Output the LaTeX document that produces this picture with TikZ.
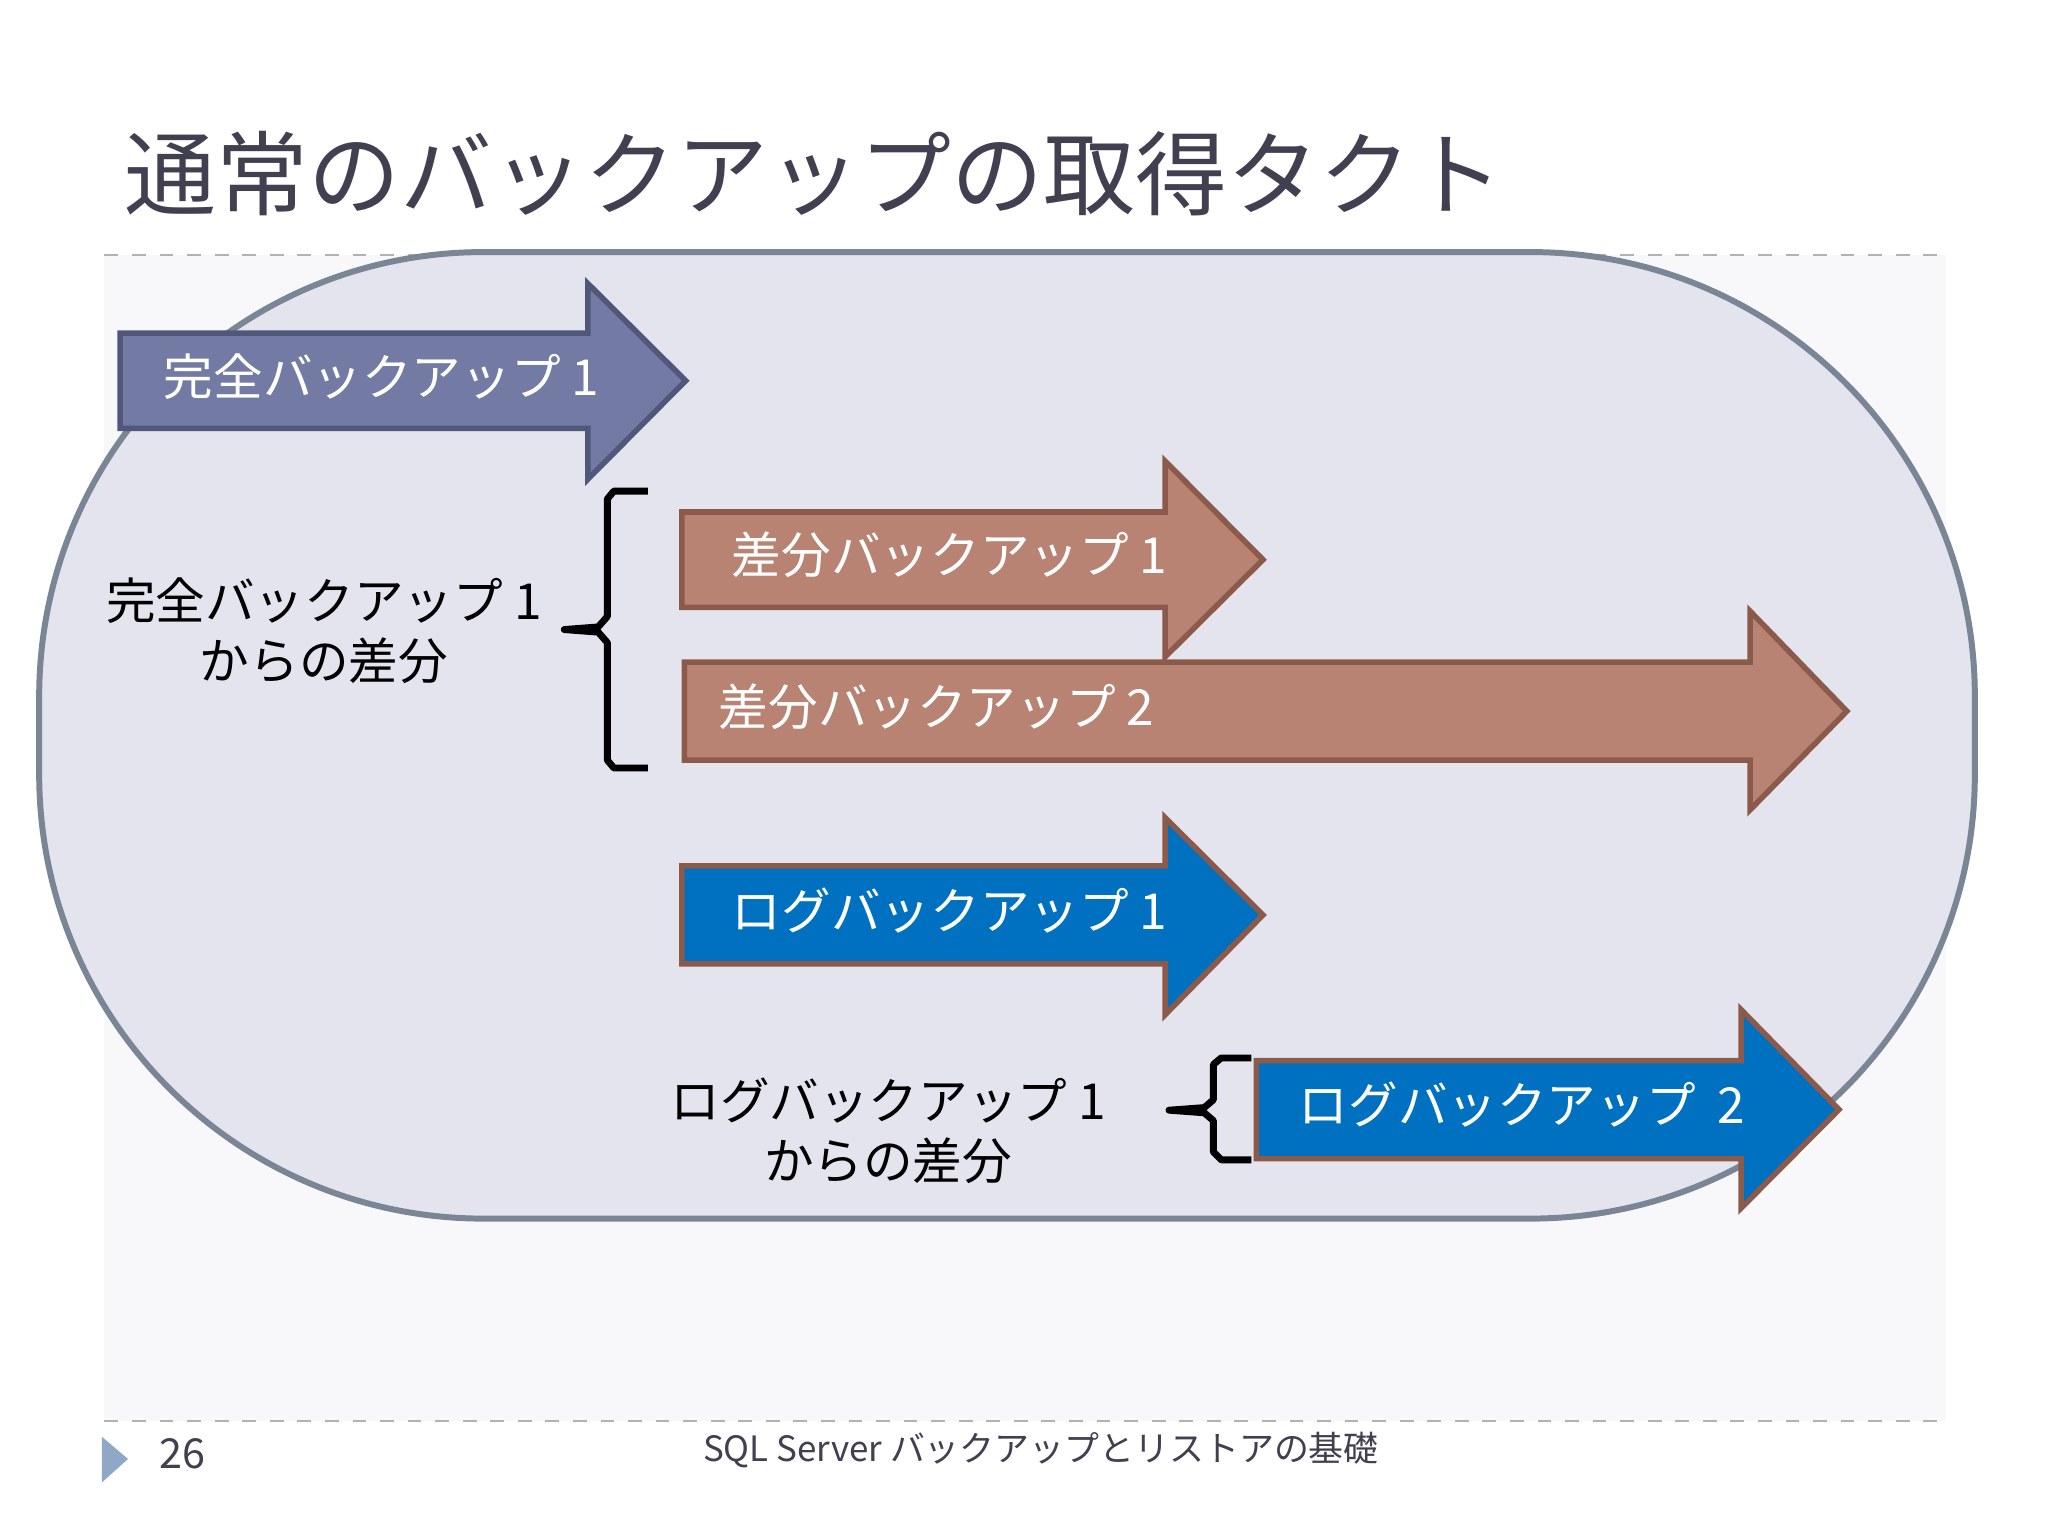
\documentclass[tikz,border=0pt]{standalone}
\usepackage{fontspec}
\setmainfont{Noto Sans CJK JP}
\definecolor{fullF}{RGB}{115,122,163}
\definecolor{fullD}{RGB}{80,87,122}
\definecolor{diffF}{RGB}{184,131,114}
\definecolor{diffD}{RGB}{140,90,74}
\definecolor{logF}{RGB}{0,112,192}
\definecolor{panelF}{RGB}{227,228,238}
\definecolor{panelD}{RGB}{122,133,149}
\definecolor{bgF}{RGB}{248,248,251}
\definecolor{titleC}{RGB}{64,64,80}
\definecolor{triC}{RGB}{143,168,200}
\begin{document}
\begin{tikzpicture}[x=0.01cm,y=-0.01cm,
  full/.style={fill=fullF,draw=fullD,line width=1.2pt},
  diff/.style={fill=diffF,draw=diffD,line width=1.2pt},
  logs/.style={fill=logF,draw=diffD,line width=1.2pt},
  atext/.style={text=white,font=\fontsize{10.8pt}{12pt}\selectfont,anchor=west},
  btext/.style={text=black,font=\fontsize{10.8pt}{13pt}\selectfont,align=center},
  brace/.style={line width=1.5pt,line join=round}]
\useasboundingbox[fill=white] (0,0) rectangle (1568,1176);
\fill[bgF] (80,195) rectangle (1490,1088);
% title
\node[anchor=base west,inner sep=0,text=titleC,font=\fontsize{20pt}{22pt}\selectfont] (title) at (95,160) {通常のバックアップの取得タクト};
\draw[dashed,gray!60] (80,195) -- (1490,195);
% panel
\draw[rounded corners=3.4cm,fill=panelF,draw=panelD,line width=1.3pt] (30,193) rectangle (1512,933);
% arrows
\newcommand{\myarrow}[8]{% style, x0, x1, ytop, ybot, tip, headtop, headbot
  \draw[#1] (#2,#4) -- (#3,#4) -- (#3,#7) -- (#6,{(#4+#5)/2}) -- (#3,#8) -- (#3,#5) -- (#2,#5) -- cycle;}
\myarrow{full}{92}{450}{255}{328}{525}{217}{367}
\myarrow{diff}{522}{892}{392}{465}{967}{353}{503}
\myarrow{diff}{524}{1340}{507}{582}{1414}{468}{620}
\myarrow{logs}{522}{892}{663}{738}{967}{626}{777}
\myarrow{logs}{962}{1333}{812}{887}{1408}{773}{925}
\node[atext] (t1) at (113,288) {完全バックアップ 1};
\node[atext] (t2) at (548,425) {差分バックアップ 1};
\node[atext] (t3) at (538,541) {差分バックアップ 2};
\node[atext] (t4) at (548,697) {ログバックアップ 1};
\node[atext] (t5) at (982,846) {ログバックアップ\ \ 2};
% braces
\draw[brace] (496,376) -- (470,376) -- (465,382) -- (465,472) -- (458,480) -- (432,482) -- (458,484) -- (465,492) -- (465,582) -- (470,588) -- (496,588);
\draw[brace] (958,810) -- (935,810) -- (929,815) -- (929,842) -- (922,848) -- (895,850) -- (922,852) -- (929,858) -- (929,882) -- (935,888) -- (958,888);
\node[btext] (l1) at (248,483) {完全バックアップ 1\\からの差分};
\node[btext] (l2) at (680,866) {ログバックアップ 1\\からの差分};
% footer
\draw[dashed,gray!60] (80,1088) -- (1490,1088);
\fill[triC] (78,1100) -- (98,1117) -- (78,1135) -- cycle;
\node[text=titleC,font=\fontsize{9pt}{10pt}\selectfont] (pg) at (140,1113) {26};
\node[text=titleC,font=\fontsize{7.6pt}{9pt}\selectfont] (ft) at (797,1110) {SQL Server バックアップとリストアの基礎};
\end{tikzpicture}
\end{document}
